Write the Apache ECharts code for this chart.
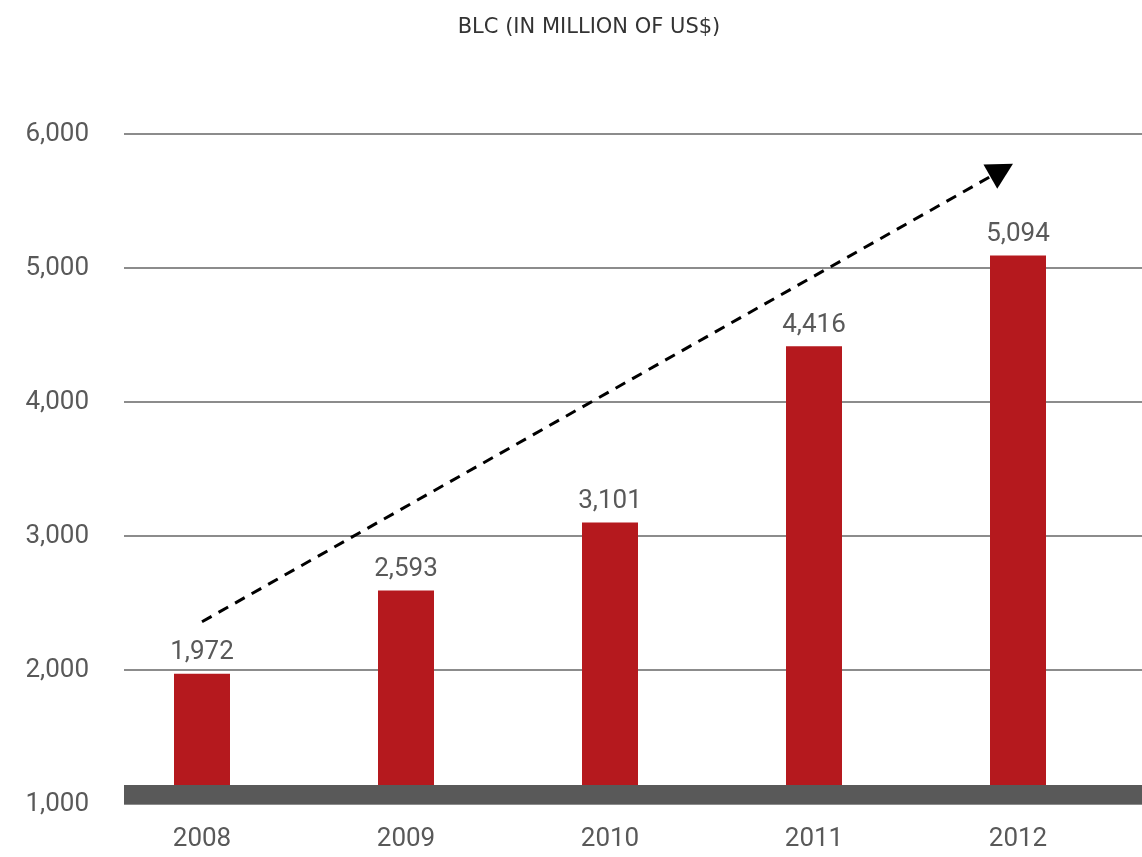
<!DOCTYPE html>
<html>
<head>
<meta charset="utf-8">
<script src="https://cdn.jsdelivr.net/npm/echarts@6/dist/echarts.min.js"></script>
<style>html,body{margin:0;padding:0;background:#fff;}#c{width:1142px;height:857px;}</style>
</head>
<body>
<div id="c"></div>
<script>
const titleText = 'BLC (IN MILLION OF US$)';
const years = ['2008', '2009', '2010', '2011', '2012'];
const blcValues = [1972, 2593, 3101, 4416, 5094];
const yTicks = [1000, 2000, 3000, 4000, 5000, 6000];
const trendStart = [0, 2360];
const trendEnd = [3.92, 5730];
const baseBand = [1000, 1141];

const chart = echarts.init(document.getElementById('c'));
const fmt = v => v.toLocaleString('en-US');
const textColor = '#595959';
const font = 'Roboto';

chart.setOption({
  animation: false,
  title: {
    text: titleText, left: 584, top: 12, textAlign: 'center',
    textStyle: { fontFamily: 'DejaVu Sans', fontSize: 21, fontWeight: 'normal', color: '#333' }
  },
  grid: [
    { left: 124, right: 0, top: 134, bottom: 53 },
    { left: 100, right: 22, top: 134, bottom: 53 }
  ],
  xAxis: [
    { type: 'value', gridIndex: 0, min: 0, max: 1, show: false },
    { type: 'category', gridIndex: 1, data: years,
      axisLine: { show: false }, axisTick: { show: false },
      axisLabel: { margin: 22, fontFamily: font, fontSize: 26, color: textColor } },
    { type: 'value', gridIndex: 1, min: -0.5, max: years.length - 0.5, show: false }
  ],
  yAxis: [
    { type: 'value', gridIndex: 0, min: yTicks[0], max: yTicks[yTicks.length - 1], interval: 1000,
      axisLine: { show: false }, axisTick: { show: false },
      axisLabel: { margin: 35, fontFamily: font, fontSize: 26, color: textColor, formatter: fmt },
      splitLine: { lineStyle: { color: '#666', width: 1.5 } } },
    { type: 'value', gridIndex: 1, min: yTicks[0], max: yTicks[yTicks.length - 1], interval: 1000, show: false,
      splitLine: { show: false } }
  ],
  series: [
    {
      type: 'bar', xAxisIndex: 1, yAxisIndex: 1, data: blcValues, barWidth: 56, z: 2,
      itemStyle: { color: '#b5191e' },
      label: { show: true, position: 'top', distance: 8, fontFamily: font, fontSize: 26, color: textColor,
        formatter: p => fmt(p.value) }
    },
    {
      type: 'line', xAxisIndex: 2, yAxisIndex: 1, data: [], z: 10,
      markLine: {
        silent: true, symbol: ['none', 'triangle'], symbolSize: [28, 26], z: 10,
        label: { show: false },
        lineStyle: { color: '#000', width: 3, type: [11, 8] },
        data: [[ { coord: trendStart }, { coord: trendEnd } ]]
      }
    },
    {
      type: 'line', xAxisIndex: 0, yAxisIndex: 0, data: [], z: 8,
      markArea: {
        silent: true, z: 8, itemStyle: { color: '#595959', opacity: 1 },
        data: [[ { yAxis: baseBand[0] }, { yAxis: baseBand[1] } ]]
      }
    }
  ]
});
</script>
</body>
</html>
